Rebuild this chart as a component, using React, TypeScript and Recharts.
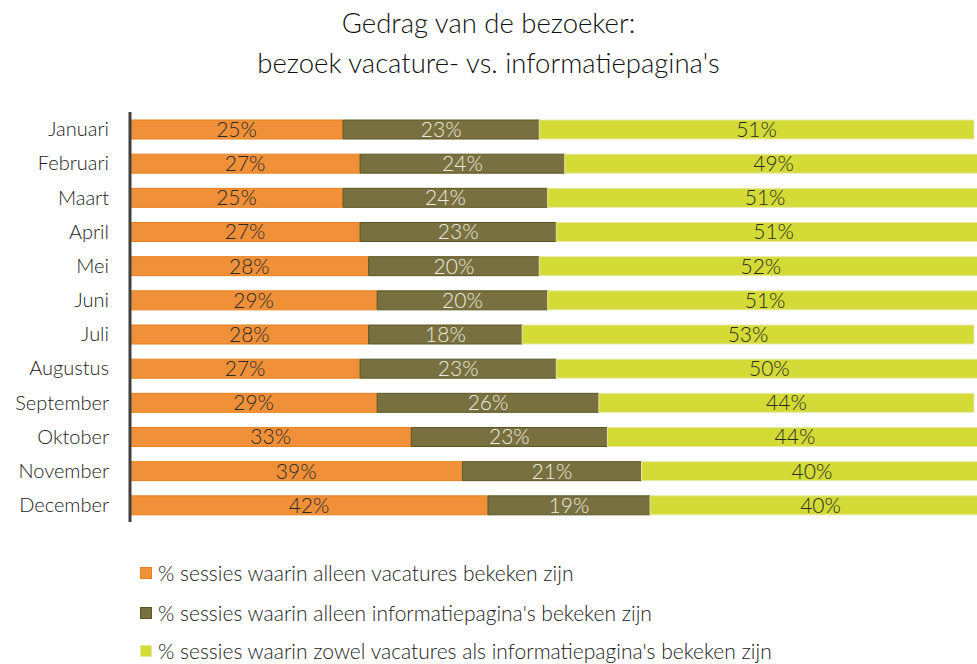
import React from 'react';
import { BarChart, Bar, XAxis, YAxis, LabelList, Legend } from 'recharts';

const months = ['Januari', 'Februari', 'Maart', 'April', 'Mei', 'Juni', 'Juli', 'Augustus', 'September', 'Oktober', 'November', 'December'];
const alleenVacatures = [25, 27, 25, 27, 28, 29, 28, 27, 29, 33, 39, 42];
const alleenInfo = [23, 24, 24, 23, 20, 20, 18, 23, 26, 23, 21, 19];
const zowel = [51, 49, 51, 51, 52, 51, 53, 50, 44, 44, 40, 40];

const seriesNames = [
  '% sessies waarin alleen vacatures bekeken zijn',
  "% sessies waarin alleen informatiepagina's bekeken zijn",
  "% sessies waarin zowel vacatures als informatiepagina's bekeken zijn",
];

const data = months.map((m, i) => ({
  month: m,
  a: alleenVacatures[i],
  b: alleenInfo[i],
  c: zowel[i],
}));

const FONT = 'Lato, "Open Sans", sans-serif';
const colors = ['#F0913A', '#787040', '#D4DA36'];
const strokes = ['#E8801E', '#5C5722', '#E6E9A6'];

const LegendContent = () => (
  <div style={{ position: 'relative' }}>
    {seriesNames.map((n, i) => (
      <div key={n} style={{ position: 'absolute', left: 140, top: [0, 40, 78][i], height: 21, display: 'flex', alignItems: 'center', whiteSpace: 'nowrap' }}>
        <span style={{ display: 'inline-block', width: 12, height: 12, background: colors[i], border: `1px solid ${strokes[i]}`, boxSizing: 'border-box', marginRight: 6 }} />
        <span style={{ fontFamily: FONT, fontWeight: 300, fontSize: 21, lineHeight: '21px', color: '#222' }}>{n}</span>
      </div>
    ))}
  </div>
);

export default function App() {
  return (
    <div style={{ position: 'absolute', left: 0, top: 0, width: 977, height: 664, overflow: 'hidden', background: '#fff' }}>
      <div style={{ position: 'absolute', left: 0, top: 3, width: 977, textAlign: 'center', fontFamily: FONT, fontWeight: 300, fontSize: 27.5, lineHeight: '40px', color: '#111' }}>
        Gedrag van de bezoeker:<br />bezoek vacature- vs. informatiepagina's
      </div>
      <div style={{ position: 'absolute', left: 0, top: 0 }}>
        <BarChart
          width={1010}
          height={664}
          data={data}
          layout="vertical"
          margin={{ top: 112, right: 19, left: 0, bottom: 142 }}
        >
          <XAxis type="number" domain={[0, 100]} hide />
          <YAxis
            type="category"
            dataKey="month"
            width={130}
            axisLine={{ stroke: '#404040', strokeWidth: 3 }}
            tickLine={false}
            tickMargin={15}
            tick={{ fontFamily: FONT, fontWeight: 300, fontSize: 20, fill: '#222' }}
            interval={0}
          />
          <Legend verticalAlign="bottom" align="left" wrapperStyle={{ top: 562, left: 0 }} content={<LegendContent />} />
          <Bar dataKey="a" stackId="s" barSize={19} name={seriesNames[0]} fill={colors[0]} stroke={strokes[0]} strokeWidth={1} isAnimationActive={false}>
            <LabelList dataKey="a" position="center" formatter={(v: any) => `${v}%`} style={{ fontFamily: FONT, fontWeight: 300, fontSize: 21, fill: '#2a2a2a' }} />
          </Bar>
          <Bar dataKey="b" stackId="s" barSize={19} name={seriesNames[1]} fill={colors[1]} stroke={strokes[1]} strokeWidth={1} isAnimationActive={false}>
            <LabelList dataKey="b" position="center" formatter={(v: any) => `${v}%`} style={{ fontFamily: FONT, fontWeight: 300, fontSize: 21, fill: '#ECECDC' }} />
          </Bar>
          <Bar dataKey="c" stackId="s" barSize={19} name={seriesNames[2]} fill={colors[2]} stroke={strokes[2]} strokeWidth={1} isAnimationActive={false}>
            <LabelList dataKey="c" position="center" formatter={(v: any) => `${v}%`} style={{ fontFamily: FONT, fontWeight: 300, fontSize: 21, fill: '#2a2a2a' }} />
          </Bar>
        </BarChart>
      </div>
    </div>
  );
}
